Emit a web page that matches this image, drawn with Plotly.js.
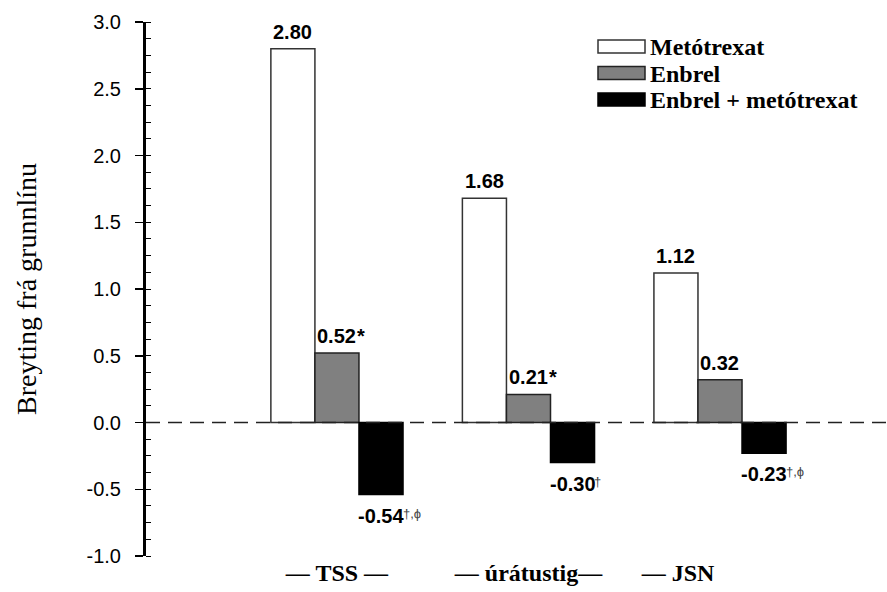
<!DOCTYPE html>
<html>
<head>
<meta charset="utf-8">
<script src="https://cdn.plot.ly/plotly-3.0.1.min.js"></script>
<style>html,body{margin:0;padding:0;background:#fff}#chart{width:887px;height:592px}</style>
</head>
<body>
<div id="chart"></div>
<script>
// ---- data ----
const categories = ["TSS", "úrátustig", "JSN"];
const tickLabels = ["— TSS —", "— úrátustig—", "— JSN" + "\u00a0".repeat(14)];
const seriesNames = ["Metótrexat", "Enbrel", "Enbrel + metótrexat"];
const metotrexat = [2.80, 1.68, 1.12];
const enbrel = [0.52, 0.21, 0.32];
const enbrelMetotrexat = [-0.54, -0.30, -0.23];
const inlineMarks = [["", "", ""], ["*", "*", ""], ["", "", ""]];
const supMarks = [["", "", ""], ["", "", ""], ["†,ϕ", "†", "†,ϕ"]];
const yTickVals = [-1.0, -0.5, 0.0, 0.5, 1.0, 1.5, 2.0, 2.5, 3.0];
const yTickText = ["-1.0", "-0.5", "0.0", "0.5", "1.0", "1.5", "2.0", "2.5", "3.0"];

// ---- styles / layout constants ----
const series = [metotrexat, enbrel, enbrelMetotrexat];
const fills = ["#ffffff", "#808080", "#000000"];
const outlines = ["#333333", "#222222", "#000000"];
const SANS = "Liberation Sans, Arial, sans-serif";
const SERIF = "Liberation Serif, Times New Roman, serif";
const W = 887, H = 592;
const M = {l: 146, r: 0, t: 22, b: 36};
const PW = W - M.l - M.r, PH = H - M.t - M.b;
const px2x = px => (px - M.l) / PW;
const px2y = py => (H - M.b - py) / PH;
const bargap = 0.31;
const bw = (1 - bargap) / 3;

const traces = series.map((vals, i) => ({
  type: "bar",
  name: seriesNames[i],
  x: categories,
  y: vals,
  marker: {color: fills[i], line: {color: outlines[i], width: 1.5}},
  hoverinfo: "skip",
  showlegend: false
}));

const ctx = document.createElement("canvas").getContext("2d");
ctx.font = "bold 20px 'Liberation Sans'";

const annotations = [];
const shapes = [];
series.forEach((vals, i) => {
  vals.forEach((v, j) => {
    const num = v.toFixed(2);
    const xpos = j + (i - 1) * bw;
    const neg = v < 0;
    const w = ctx.measureText(num).width;
    annotations.push({
      x: xpos, y: v, xref: "x", yref: "y",
      text: num, showarrow: false,
      xanchor: "center", yanchor: neg ? "top" : "bottom",
      yshift: neg ? -8 : 4,
      font: {family: SANS, size: 20, color: "#000", weight: "bold"}
    });
    if (inlineMarks[i][j]) {
      annotations.push({
        x: xpos, y: v, xref: "x", yref: "y",
        text: inlineMarks[i][j], showarrow: false,
        xanchor: "left", yanchor: neg ? "top" : "bottom",
        xshift: w / 2 - 1, yshift: neg ? -8 : 4,
        font: {family: SANS, size: 20, color: "#000", weight: "bold"}
      });
    }
    if (supMarks[i][j]) {
      annotations.push({
        x: xpos, y: v, xref: "x", yref: "y",
        text: supMarks[i][j], showarrow: false,
        xanchor: "left", yanchor: "top",
        xshift: w / 2 - 3, yshift: neg ? -9 : 28,
        font: {family: SANS, size: 13, color: "#444"}
      });
    }
  });
});

// ---- hand-drawn legend (wide swatches as in the reference) ----
const legX0 = 598, legX1 = 645, legTextX = 648, legY0 = 40, legStep = 26.5, swH = 13;
seriesNames.forEach((name, i) => {
  const top = legY0 + i * legStep;
  shapes.push({
    type: "rect", xref: "paper", yref: "paper",
    x0: px2x(legX0), x1: px2x(legX1), y0: px2y(top + swH), y1: px2y(top),
    fillcolor: fills[i], line: {color: outlines[i], width: 1.5}, layer: "above"
  });
  annotations.push({
    xref: "paper", yref: "paper", x: px2x(legTextX), y: px2y(top + swH / 2 + 1),
    text: name, showarrow: false, xanchor: "left", yanchor: "middle",
    font: {family: SERIF, size: 24, color: "#000", weight: "bold"}
  });
});

shapes.push({
  type: "line", xref: "paper", yref: "y", x0: 0, x1: 1, y0: 0, y1: 0,
  line: {color: "#222", width: 1.3, dash: "14px,8px"}, layer: "above"
});

const layout = {
  width: W, height: H,
  margin: M,
  paper_bgcolor: "#fff", plot_bgcolor: "#fff",
  barmode: "group", bargap: bargap, bargroupgap: 0,
  showlegend: false,
  xaxis: {
    type: "category",
    range: [-0.997, 2.872],
    tickmode: "array", tickvals: categories, ticktext: tickLabels,
    showline: false, showgrid: false, zeroline: false, ticks: "",
    tickfont: {family: SERIF, size: 24, color: "#000", weight: "bold"},
    fixedrange: true
  },
  yaxis: {
    range: [-1, 3],
    tickmode: "array", tickvals: yTickVals, ticktext: yTickText,
    showline: true, linecolor: "#000", linewidth: 3,
    ticks: "outside", ticklen: 8, tickwidth: 1.5, tickcolor: "#000",
    ticklabelstandoff: 10,
    minor: {dtick: 0.125, ticks: "inside", ticklen: 5, tickwidth: 1, tickcolor: "#000", showgrid: false},
    showgrid: false, zeroline: false,
    tickfont: {family: SANS, size: 20, color: "#000"},
    title: {text: "Breyting frá grunnlínu", font: {family: SERIF, size: 28, color: "#000"}, standoff: 42},
    fixedrange: true
  },
  shapes: shapes,
  annotations: annotations
};

Plotly.newPlot("chart", traces, layout, {displayModeBar: false, staticPlot: true});
</script>
</body>
</html>
